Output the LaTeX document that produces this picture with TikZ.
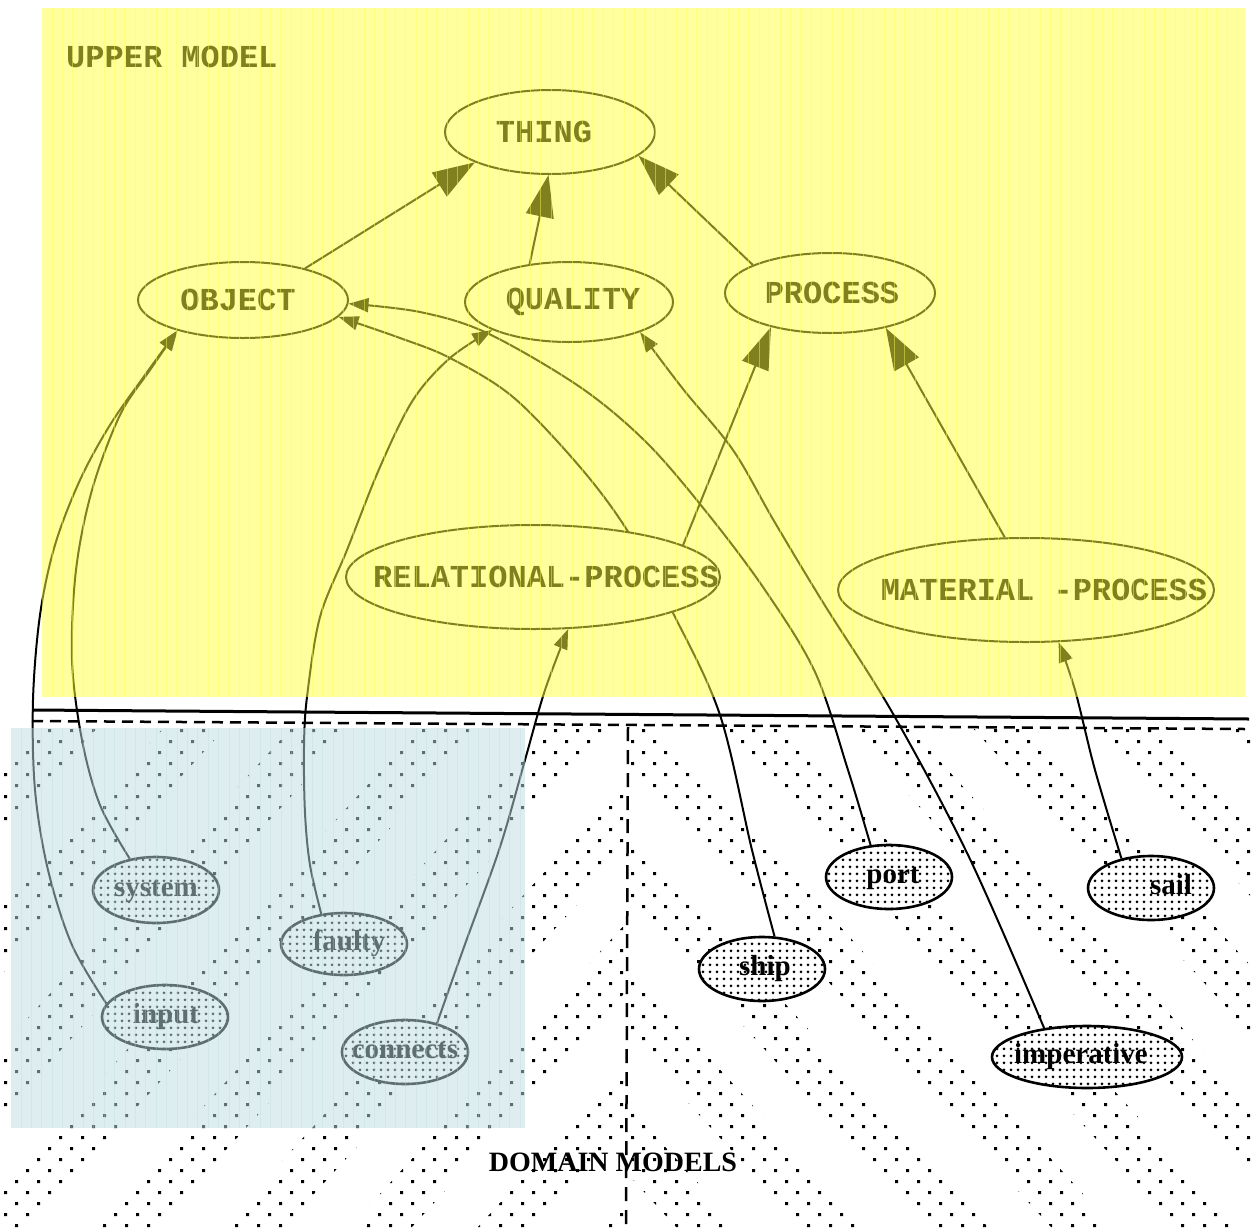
\documentclass[tikz,border=0pt]{standalone}
\usepackage{fontspec}
\setmainfont{Liberation Serif}
\newfontfamily\umfont{Liberation Mono}
\usetikzlibrary{shapes.geometric,arrows.meta,patterns.meta}
\pgfdeclarelayer{bg}
\pgfdeclarelayer{fg}
\pgfsetlayers{bg,main,fg}
\definecolor{ylwov}{RGB}{255,255,60}
\definecolor{blueov}{RGB}{190,220,224}
\definecolor{ygrid}{RGB}{255,255,90}
\definecolor{bgrid}{RGB}{180,218,224}
\tikzdeclarepattern{name=finedots, type=uncolored,
  bottom left={(0pt,0pt)}, top right={(7pt,7pt)}, tile size={(7pt,7pt)},
  code={\fill (3.5pt,3.5pt) circle (1.7pt);}}
\newcommand\sht[2]{\makebox[0pt]{\hspace*{#1}#2}}
\tikzset{
  upper/.style={ellipse, draw, line width=2pt, fill=white, inner sep=0pt,
    font=\umfont\bfseries\fontsize{32}{32}\selectfont},
  dom/.style={ellipse, draw, line width=2.6pt, preaction={fill=white}, pattern=finedots,
    inner sep=0pt, minimum width=126pt, minimum height=64pt,
    text height=13pt, text depth=0pt, font=\bfseries\fontsize{29}{29}\selectfont},
  conn/.style={line width=2pt},
  bigtip/.style={-{Triangle[length=42pt,width=28pt]}},
  smalltip/.style={-{Triangle[length=20pt,width=14pt]}},
  crv/.style={smooth, tension=0.55},
}
\begin{document}
\begin{tikzpicture}[x=1pt,y=-1pt]
\useasboundingbox (0,0) rectangle (1251,1227);
% ---------- nodes ----------
\node[upper, minimum width=210pt, minimum height=84pt] (THING) at (550,132) {\sht{-12pt}{THING}};
\node[upper, minimum width=210pt, minimum height=76pt] (OBJECT) at (243,300) {\sht{-10pt}{OBJECT}};
\node[upper, minimum width=208pt, minimum height=80pt] (QUALITY) at (569,302) {\sht{8pt}{QUALITY}};
\node[upper, minimum width=210pt, minimum height=80pt] (PROCESS) at (830,293) {\sht{4pt}{PROCESS}};
\node[upper, minimum width=374pt, minimum height=104pt] (REL) at (533,577) {\sht{26pt}{RELATIONAL-PROCESS}};
\node[upper, minimum width=376pt, minimum height=104pt] (MAT) at (1026,590) {\sht{36pt}{MATERIAL -PROCESS}};
\node[dom, minimum height=66pt] (system) at (156,890) {\sht{0pt}{system}};
\node[dom, minimum height=62pt] (faulty) at (344,944) {\sht{10pt}{faulty}};
\node[dom] (input) at (165,1017) {\sht{2pt}{input}};
\node[dom] (connects) at (405,1052) {\sht{0pt}{connects}};
\node[dom] (port) at (889,877) {\sht{8pt}{port}};
\node[dom] (sail) at (1151,888) {\sht{40pt}{sail}};
\node[dom] (ship) at (762,969) {\sht{6pt}{ship}};
\node[dom, minimum width=190pt, minimum height=62pt] (imperative) at (1087,1057) {\sht{-12pt}{imperative}};
\node[anchor=base west, inner sep=0pt, font=\umfont\bfseries\fontsize{32}{32}\selectfont] (um) at (66,67) {UPPER MODEL};
\node[anchor=base, inner sep=0pt, font=\bfseries\fontsize{28}{28}\selectfont] (dm) at (613,1171) {DOMAIN MODELS};
% ---------- background: bands, separators, connectors ----------
\begin{pgfonlayer}{bg}
\fill[white] (0,0) rectangle (1251,1227);
\begin{scope}
  \clip (628,725) rectangle (1251,1227);
  \clip foreach \x in {220,345,...,1220} {(\x,725) -- ++(62,0) -- ++(456,502) -- ++(-62,0) -- cycle};
  \foreach \y in {725,747,...,1227} {
    \fill foreach \x in {616,638,...,1254} {(\x+4,\y+4) rectangle ++(3,3) (\x+15,\y+15) rectangle ++(3,3)};
  }
\end{scope}
\begin{scope}
  \clip (0,725) rectangle (628,1227);
  \clip foreach \x in {100,228,...,1124} {(\x,725) -- ++(-62,0) -- ++(-456,502) -- ++(62,0) -- cycle};
  \foreach \y in {725,747,...,1227} {
    \fill foreach \x in {0,22,...,638} {(\x+4,\y+4) rectangle ++(3,3) (\x+15,\y+15) rectangle ++(3,3)};
  }
\end{scope}
\draw[line width=3pt] (32,710) -- (1249,719);
\draw[line width=2.5pt, dash pattern=on 11pt off 7pt] (32,721) -- (1245,729);
\draw[line width=2.5pt, dash pattern=on 14pt off 9pt] (628,727) -- (626,1227);
% upper model links
\draw[conn,bigtip] (OBJECT.27) -- (THING.202);
\draw[conn,bigtip] (QUALITY.136) -- (THING.268);
\draw[conn,bigtip] (PROCESS.160) -- (THING.345);
\draw[conn,bigtip] (REL.12) -- (PROCESS.210);
\draw[conn,bigtip] (MAT.112) -- (PROCESS.-32.5);
% domain links
\draw[conn,smalltip] plot[crv] coordinates {(system.130) (100,805) (82,740) (72,660) (76,570) (92,490) (120,415) (150,370) (OBJECT.205)};
\draw[conn,smalltip] plot[crv] coordinates {(input.167) (72,945) (48,870) (35,790) (33,700) (40,615) (55,545) (80,480) (110,425) (145,375) (OBJECT.205)};
\draw[conn,smalltip] plot[crv] coordinates {(faulty.127) (310,865) (305,813) (304,747) (307,697) (320,617) (347,550) (380,467) (413,400) (450,358) (QUALITY.200)};
\draw[conn,smalltip] plot[crv] coordinates {(connects.42) (464,947) (500,847) (525,760) (545,690) (REL.-56)};
\draw[conn,smalltip] plot[crv] coordinates {(ship.69) (752,850) (720,715) (673,613) (627,530) (580,467) (513,397) (450,358) (400,338) (OBJECT.350)};
\draw[conn,smalltip] plot[crv] coordinates {(port.120) (848,770) (815,672) (765,590) (708,514) (647,443) (580,387) (487,333) (420,312) (OBJECT.358)};
\draw[conn,smalltip] plot[crv] coordinates {(imperative.146) (969,857) (892,712) (824,604) (774,521) (733,450) (683,389) (QUALITY.-23)};
\draw[conn,smalltip] plot[crv] coordinates {(sail.135) (1095,770) (1075,690) (MAT.-58.5)};
\end{pgfonlayer}
% ---------- translucent overlays ----------
\begin{pgfonlayer}{fg}
\fill[ylwov, fill opacity=0.5] (42,8) rectangle (1245,697);
\begin{scope}
  \clip (42,8) rectangle (1245,697);
  \draw[ygrid, line width=0.7pt, opacity=0.45, step=10.4] (42,8) grid (1245,697);
\end{scope}
\fill[blueov, fill opacity=0.5] (11,728) rectangle (525,1128);
\begin{scope}
  \clip (11,728) rectangle (525,1128);
  \draw[bgrid, line width=0.6pt, opacity=0.3, step=10.4] (11,728) grid (525,1128);
\end{scope}
\end{pgfonlayer}
\end{tikzpicture}
\end{document}
